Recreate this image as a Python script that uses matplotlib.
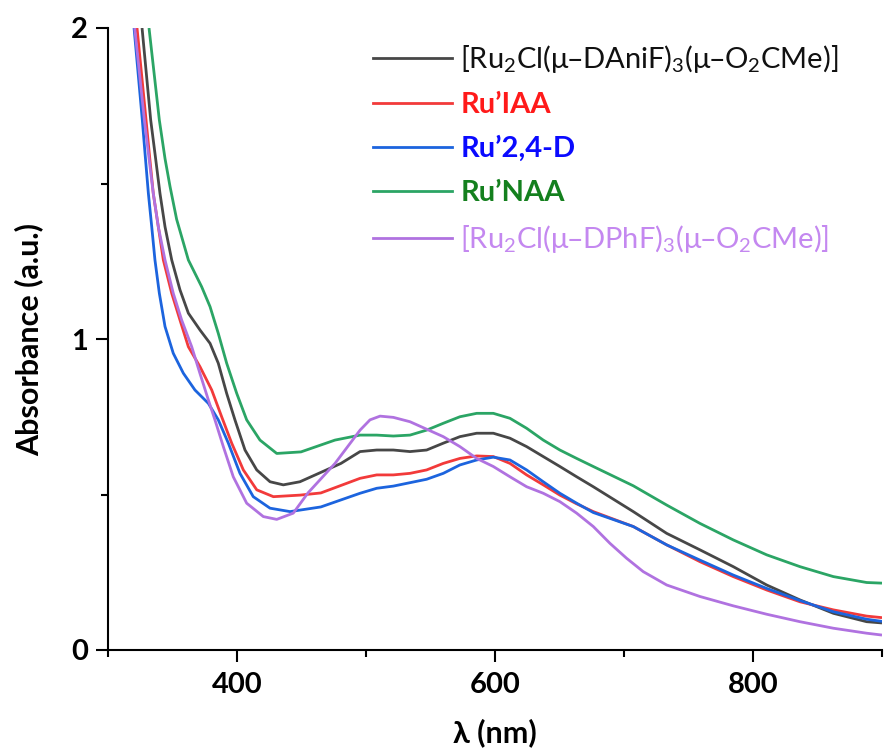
import matplotlib
matplotlib.use("Agg")
import matplotlib.pyplot as plt
from matplotlib.lines import Line2D

plt.rcParams['font.family'] = ['Lato', 'Open Sans', 'DejaVu Sans']
plt.rcParams['mathtext.default'] = 'regular'

# ---------------- data (wavelength nm, absorbance) ----------------
black_x = [326.4, 333.1, 336.4, 340.3, 344.2, 349.4, 355.8, 362.3, 371.3, 379.1, 385.5, 392.0, 398.4,
           406.2, 415.3, 425.6, 435.9, 448.8, 480.6, 495.4, 508.3, 521.2, 534.1, 547.0, 559.9, 572.8,
           585.8, 598.7, 611.6, 624.5, 637.4, 650.3, 663.3, 676.2, 707.2, 733.1, 758.9, 784.7, 810.6,
           836.4, 862.3, 888.1, 900]
black_y = [2.0, 1.704, 1.597, 1.468, 1.361, 1.254, 1.158, 1.083, 1.029, 0.986, 0.922, 0.825, 0.740,
           0.643, 0.579, 0.541, 0.531, 0.541, 0.600, 0.638, 0.643, 0.643, 0.638, 0.643, 0.665, 0.686,
           0.697, 0.697, 0.681, 0.654, 0.622, 0.590, 0.557, 0.525, 0.445, 0.375, 0.322, 0.268, 0.209,
           0.161, 0.118, 0.091, 0.087]

red_x = [322.5, 329.5, 332.0, 335.1, 339.0, 342.9, 349.4, 355.8, 362.3, 371.3, 380.4, 388.1, 395.9,
         404.9, 415.3, 428.2, 448.8, 465.0, 495.4, 508.3, 521.2, 534.1, 547.0, 559.9, 572.8, 585.8,
         598.7, 611.6, 624.5, 637.4, 650.3, 663.3, 676.2, 707.2, 733.1, 758.9, 784.7, 810.6, 836.4,
         862.3, 888.1, 900]
red_y = [2.0, 1.704, 1.597, 1.468, 1.361, 1.254, 1.147, 1.061, 0.975, 0.911, 0.836, 0.750, 0.665,
         0.579, 0.515, 0.493, 0.498, 0.505, 0.552, 0.563, 0.563, 0.568, 0.579, 0.600, 0.616, 0.624,
         0.622, 0.600, 0.563, 0.531, 0.498, 0.470, 0.445, 0.397, 0.338, 0.284, 0.236, 0.193, 0.155,
         0.129, 0.109, 0.104]

blue_x = [320.2, 326.6, 328.7, 331.3, 333.9, 336.4, 339.8, 344.2, 350.6, 358.4, 367.4, 377.8, 385.5,
          393.3, 402.3, 412.6, 425.6, 441.1, 465.0, 495.4, 508.3, 521.2, 534.1, 547.0, 559.9, 572.8,
          585.8, 598.7, 611.6, 624.5, 637.4, 650.3, 663.3, 676.2, 707.2, 733.1, 758.9, 784.7, 810.6,
          836.4, 862.3, 888.1, 900]
blue_y = [2.0, 1.704, 1.597, 1.468, 1.361, 1.254, 1.147, 1.040, 0.954, 0.890, 0.836, 0.793, 0.740,
          0.665, 0.568, 0.493, 0.456, 0.445, 0.460, 0.504, 0.520, 0.527, 0.538, 0.549, 0.568, 0.595,
          0.611, 0.620, 0.611, 0.579, 0.541, 0.504, 0.472, 0.442, 0.397, 0.338, 0.289, 0.241, 0.198,
          0.159, 0.123, 0.099, 0.092]

green_x = [331.8, 339.8, 344.2, 348.1, 353.2, 362.3, 372.6, 379.1, 385.5, 392.0, 399.8, 407.5, 417.8,
           430.8, 449.6, 476.0, 495.4, 508.3, 521.2, 534.1, 547.0, 559.9, 572.8, 585.8, 598.7, 611.6,
           624.5, 637.4, 650.3, 663.3, 676.2, 707.2, 733.1, 758.9, 784.7, 810.6, 836.4, 862.3, 888.1, 900]
green_y = [2.0, 1.704, 1.580, 1.490, 1.385, 1.254, 1.168, 1.104, 1.018, 0.922, 0.825, 0.740, 0.675,
           0.632, 0.637, 0.675, 0.691, 0.691, 0.688, 0.691, 0.707, 0.729, 0.750, 0.761, 0.761, 0.745,
           0.713, 0.675, 0.643, 0.616, 0.590, 0.528, 0.466, 0.407, 0.354, 0.306, 0.268, 0.236, 0.217, 0.215]

purple_x = [320.7, 328.2, 331.3, 335.1, 339.0, 344.2, 350.6, 357.1, 364.9, 371.3, 377.8, 382.9, 389.4,
            397.1, 407.5, 420.4, 430.8, 443.6, 455.0, 476.0, 495.4, 503.1, 510.9, 521.2, 534.1, 547.0,
            559.9, 572.8, 585.8, 598.7, 611.6, 624.5, 637.4, 650.3, 663.3, 676.2, 689.1, 702.0, 714.9,
            733.1, 758.9, 784.7, 810.6, 836.4, 862.3, 888.1, 900]
purple_y = [2.0, 1.704, 1.597, 1.468, 1.361, 1.254, 1.147, 1.061, 0.975, 0.889, 0.804, 0.740, 0.654,
            0.557, 0.472, 0.429, 0.420, 0.440, 0.505, 0.600, 0.707, 0.740, 0.752, 0.748, 0.734, 0.710,
            0.686, 0.654, 0.616, 0.590, 0.557, 0.525, 0.504, 0.477, 0.440, 0.397, 0.343, 0.295, 0.252,
            0.209, 0.172, 0.142, 0.115, 0.091, 0.070, 0.054, 0.048]

labels = ['[Ru$_2$Cl(μ–DAniF)$_3$(μ–O$_2$CMe)]', 'Ru’IAA', 'Ru’2,4-D', 'Ru’NAA',
          '[Ru$_2$Cl(μ–DPhF)$_3$(μ–O$_2$CMe)]']
line_colors = ['#474747', '#f23a3a', '#1c64de', '#2ba565', '#b072e0']
text_colors = ['#111111', '#ff1a1a', '#0a0aff', '#14801e', '#c488f0']
text_weights = ['normal', 'bold', 'bold', 'bold', 'normal']

x_major = [400, 600, 800]
x_minor = [300, 500, 700, 900]
y_major = [0, 1, 2]
y_minor = [0.5, 1.5]

# ---------------- figure ----------------
fig = plt.figure(figsize=(8.85, 7.53), dpi=100)
ax = fig.add_axes([108/885, 103/753, (882-108)/885, (650-28)/753])

series = [(black_x, black_y), (red_x, red_y), (blue_x, blue_y), (green_x, green_y), (purple_x, purple_y)]
for (xs, ys), c in zip(series, line_colors):
    ax.plot(xs, ys, color=c, lw=2.0, solid_joinstyle='round', solid_capstyle='butt')

ax.set_xlim(300, 900)
ax.set_ylim(0, 2)
ax.spines['top'].set_visible(False)
ax.spines['right'].set_visible(False)
for s in ['left', 'bottom']:
    ax.spines[s].set_linewidth(1.5)

ax.set_xticks(x_major)
ax.set_xticks(x_minor, minor=True)
ax.set_yticks(y_major)
ax.set_yticks(y_minor, minor=True)
ax.tick_params(which='major', length=8.5, width=1.5, direction='out', labelsize=21)
ax.tick_params(which='minor', length=5, width=1.5, direction='out')
ax.tick_params(axis='x', which='major', pad=7)
ax.tick_params(axis='y', which='major', pad=6)
for lab in ax.get_xticklabels() + ax.get_yticklabels():
    lab.set_fontweight('bold')

ax.set_xlabel('λ (nm)', fontsize=22, fontweight='bold', labelpad=15)
ax.set_ylabel('Absorbance (a.u.)', fontsize=22, fontweight='bold', labelpad=20)

handles = [Line2D([0], [0], color=c, lw=2.0) for c in line_colors]
leg = ax.legend(handles, labels, loc='upper left', bbox_to_anchor=((373-108)/774, 0.976),
                frameon=False, fontsize=21, handlelength=2.7, handletextpad=0.3,
                labelspacing=0.6, borderaxespad=0.0, borderpad=0.0)
for t, c, w in zip(leg.get_texts(), text_colors, text_weights):
    t.set_color(c)
    t.set_fontweight(w)

fig.savefig('out.png', dpi=100)
